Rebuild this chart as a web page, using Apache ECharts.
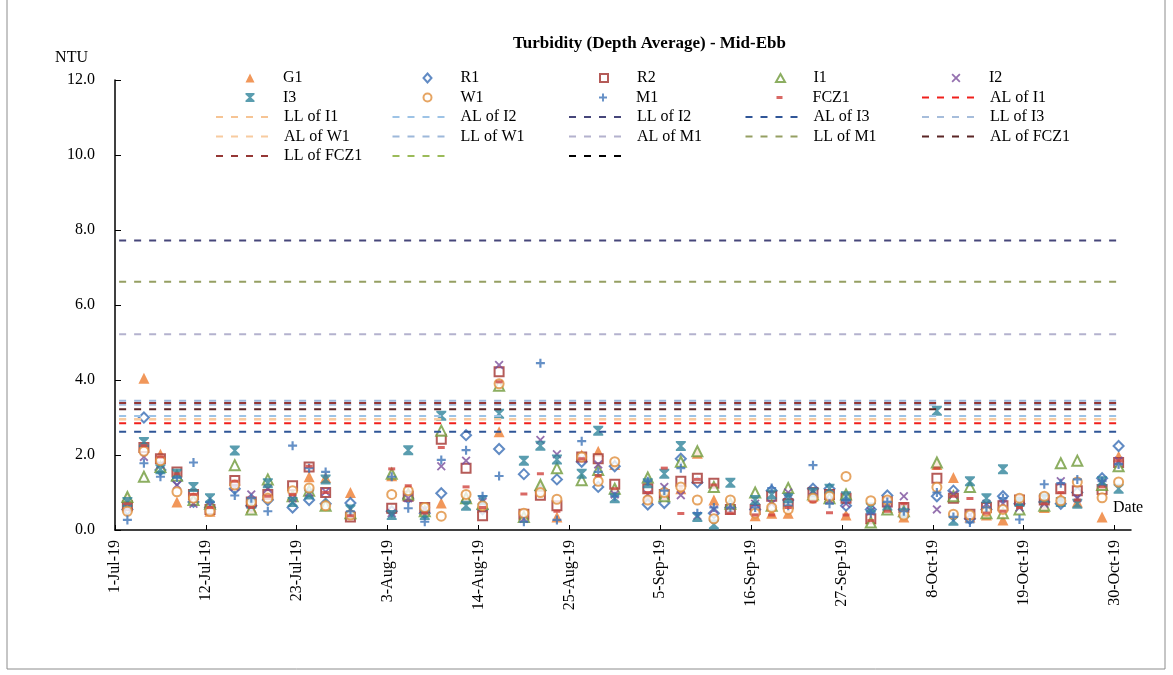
<!DOCTYPE html>
<html>
<head>
<meta charset="utf-8">
<script src="https://cdn.jsdelivr.net/npm/echarts@6/dist/echarts.min.js"></script>
<style>
	html, body { margin: 0; padding: 0; background: #fff; }
	#chart { width: 1173px; height: 675px; }
</style>
</head>
<body>
<div id="chart"></div>
<script>
	// sampling dates (one column of markers per date)
	var dates = ['2019-07-02', '2019-07-04', '2019-07-06', '2019-07-08', '2019-07-10', '2019-07-12', '2019-07-15', '2019-07-17', '2019-07-19', '2019-07-22', '2019-07-24', '2019-07-26', '2019-07-29',
		'2019-08-03', '2019-08-05', '2019-08-07', '2019-08-09', '2019-08-12', '2019-08-14', '2019-08-16', '2019-08-19', '2019-08-21', '2019-08-23', '2019-08-26', '2019-08-28', '2019-08-30',
		'2019-09-03', '2019-09-05', '2019-09-07', '2019-09-09', '2019-09-11', '2019-09-13', '2019-09-16', '2019-09-18', '2019-09-20', '2019-09-23', '2019-09-25', '2019-09-27', '2019-09-30',
		'2019-10-02', '2019-10-04', '2019-10-08', '2019-10-10', '2019-10-12', '2019-10-14', '2019-10-16', '2019-10-18', '2019-10-21', '2019-10-23', '2019-10-25', '2019-10-28', '2019-10-30'];

	var G1 = [0.85, 4.05, 2.02, 0.75, 0.9, 0.5, 1.2, 0.6, 1.05, 0.95, 1.42, 1.4, 1.0,
		1.45, 1.0, 0.55, 0.72, 0.9, 0.6, 2.62, 0.4, 1.15, 0.35, 2.0, 2.1, 1.75,
		0.85, 1.0, 1.1, 2.05, 0.8, 0.75, 0.38, 0.45, 0.45, 0.9, 0.9, 0.4, 0.3,
		0.6, 0.35, 1.75, 1.4, 0.35, 0.4, 0.27, 0.8, 0.6, 0.85, 0.75, 0.35, 1.97];
	var R1 = [0.55, 3.0, 1.6, 1.33, 0.75, 0.6, 1.1, 0.65, 0.8, 0.6, 0.8, 0.7, 0.72,
		0.5, 0.85, 0.45, 0.98, 2.53, 0.55, 2.16, 1.49, 1.05, 1.35, 1.82, 1.15, 1.7,
		0.68, 0.72, 1.9, 1.27, 0.45, 0.6, 0.55, 1.05, 0.8, 1.1, 1.1, 0.65, 0.55,
		0.92, 0.55, 0.9, 1.05, 0.3, 0.55, 0.9, 0.7, 0.75, 0.7, 1.0, 1.38, 2.24];
	var R2 = [0.65, 2.2, 1.9, 1.55, 0.95, 0.55, 1.32, 0.75, 0.95, 1.18, 1.68, 1.0, 0.35,
		0.58, 0.9, 0.6, 2.42, 1.65, 0.38, 4.22, 0.42, 0.93, 0.65, 1.95, 1.9, 1.22,
		1.1, 0.95, 1.3, 1.38, 1.25, 0.55, 0.55, 0.9, 0.7, 1.0, 0.95, 0.85, 0.3,
		0.75, 0.6, 1.38, 0.85, 0.42, 0.6, 0.65, 0.8, 0.8, 1.1, 1.05, 1.08, 1.8];
	var I1 = [0.88, 1.42, 1.68, 1.45, 0.8, 0.7, 1.73, 0.55, 1.35, 0.9, 1.05, 0.65, 0.45,
		1.5, 0.95, 0.5, 2.65, 0.85, 0.7, 3.85, 0.35, 1.2, 1.65, 1.33, 1.6, 1.1,
		1.4, 0.9, 1.82, 2.1, 1.15, 0.7, 1.0, 0.65, 1.12, 0.95, 0.85, 0.95, 0.2,
		0.55, 0.5, 1.8, 0.9, 1.15, 0.45, 0.45, 0.55, 0.65, 1.78, 1.85, 1.2, 1.7];
	var I2 = [0.6, 1.95, 1.75, 1.2, 0.7, 0.65, 1.15, 0.95, 1.1, 0.85, 1.0, 1.02, 0.4,
		0.45, 0.85, 0.55, 1.7, 1.85, 0.75, 4.4, 0.3, 2.4, 2.02, 1.9, 1.75, 0.95,
		0.95, 1.15, 0.93, 0.38, 0.55, 0.65, 0.7, 0.7, 1.0, 1.05, 0.8, 0.7, 0.5,
		0.7, 0.9, 0.55, 0.95, 0.4, 0.7, 0.7, 0.6, 0.7, 1.3, 0.85, 1.25, 1.85];
	var I3 = [0.75, 2.35, 1.62, 1.5, 1.15, 0.85, 2.12, 0.7, 1.25, 0.75, 0.95, 1.35, 0.55,
		0.4, 2.13, 0.4, 3.05, 0.65, 0.8, 3.1, 1.85, 2.25, 1.88, 1.5, 2.65, 0.85,
		1.25, 1.5, 2.24, 0.35, 0.15, 1.26, 0.8, 0.95, 0.85, 1.0, 1.1, 0.9, 0.6,
		0.65, 0.45, 3.18, 0.25, 1.3, 0.85, 1.62, 0.75, 0.85, 0.75, 0.7, 1.3, 1.1];
	var W1 = [0.5, 2.1, 1.85, 1.02, 0.85, 0.5, 1.2, 0.75, 0.85, 1.05, 1.12, 0.65, 0.4,
		0.95, 1.05, 0.6, 0.37, 0.95, 0.65, 3.9, 0.45, 1.0, 0.82, 1.95, 1.3, 1.82,
		0.8, 1.0, 1.15, 0.8, 0.3, 0.8, 0.45, 0.6, 0.55, 0.85, 0.9, 1.43, 0.78,
		0.8, 0.4, 1.14, 0.42, 0.4, 0.5, 0.55, 0.85, 0.9, 0.78, 1.28, 0.86, 1.28];
	var M1 = [0.27, 1.78, 1.42, 1.4, 1.8, 0.75, 0.92, 0.85, 0.5, 2.25, 1.65, 1.55, 0.5,
		1.42, 0.58, 0.22, 1.87, 2.13, 0.9, 1.44, 0.22, 4.45, 0.27, 2.37, 1.55, 0.9,
		1.3, 1.05, 1.65, 0.45, 0.6, 0.6, 0.6, 1.12, 0.65, 1.73, 0.7, 0.8, 0.45,
		0.75, 0.5, 1.0, 0.35, 0.2, 0.6, 0.85, 0.28, 1.22, 1.25, 1.35, 1.3, 1.75];
	var FCZ1 = [0.7, 2.25, 1.95, 1.5, 0.95, 0.6, 1.3, 0.6, 0.9, 0.95, 1.7, 1.0, 0.38,
		1.63, 1.18, 0.45, 2.2, 1.15, 0.6, 3.95, 0.96, 1.5, 0.5, 1.9, 1.45, 1.1,
		1.0, 1.65, 0.44, 1.35, 1.2, 0.45, 0.4, 0.4, 0.6, 0.75, 0.46, 0.4, 0.25,
		0.5, 0.7, 1.65, 0.9, 0.84, 0.45, 0.5, 0.6, 0.7, 1.0, 0.8, 1.15, 1.85];

	// action / limit levels (the last two legend entries have no name and no value)
	var limitNames = ['AL of I1', 'LL of I1', 'AL of I2', 'LL of I2', 'AL of I3', 'LL of I3', 'AL of W1', 'LL of W1', 'AL of M1', 'LL of M1', 'AL of FCZ1', 'LL of FCZ1', ' ', '  '];
	var limitValues = [2.85, 2.95, 3.04, 7.72, 2.62, 3.34, 2.96, 3.45, 5.22, 6.62, 3.22, 3.39, null, null];

	var tickLabels = ['1-Jul-19', '12-Jul-19', '23-Jul-19', '3-Aug-19', '14-Aug-19', '25-Aug-19', '5-Sep-19', '16-Sep-19', '27-Sep-19', '8-Oct-19', '19-Oct-19', '30-Oct-19'];

	var FONT = '"Liberation Serif", "Times New Roman", serif';
	var startDay = Date.UTC(2019, 6, 1);
	var tickStep = 11;

	// day offset from 1-Jul, markers sit in the middle of the day
	function dayPos(d) {
		var p = d.split('-');
		return (Date.UTC(+p[0], +p[1] - 1, +p[2]) - startDay) / 86400000 + 0.5;
	}
	var xs = dates.map(dayPos);
	var tickValues = tickLabels.map(function (t, i) { return i * tickStep; });

	// lg = legend icon size [w, h]
	var stations = [
		{ name: 'G1', data: G1, symbol: 'triangle', size: 11, lg: [9, 9], color: '#ED7D31' },
		{ name: 'R1', data: R1, symbol: 'emptyDiamond', size: 10, lg: [8, 9], color: '#3A6EB5' },
		{ name: 'R2', data: R2, symbol: 'emptyRect', size: 9, lg: [8, 8], color: '#A3322E' },
		{ name: 'I1', data: I1, symbol: 'emptyTriangle', size: 10, lg: [9, 8], color: '#6F9A3A' },
		{ name: 'I2', data: I2, symbol: 'path://M0,1.4L1.4,0L5,3.6L8.6,0L10,1.4L6.4,5L10,8.6L8.6,10L5,6.4L1.4,10L0,8.6L3.6,5Z', size: 9, lg: [9, 9], color: '#7A4E9B' },
		{ name: 'I3', data: I3, symbol: 'path://M0,0L10,0L10,1.6L6.3,5L10,8.4L10,10L0,10L0,8.4L3.7,5L0,1.6Z', size: 10, lg: [9, 9], color: '#31849B' },
		{ name: 'W1', data: W1, symbol: 'emptyCircle', size: 9, lg: [8, 8], color: '#E08E3C' },
		{ name: 'M1', data: M1, symbol: 'path://M3.8,0L6.2,0L6.2,3.8L10,3.8L10,6.2L6.2,6.2L6.2,10L3.8,10L3.8,6.2L0,6.2L0,3.8L3.8,3.8Z', size: 9, lg: [8, 8], color: '#3F74B8' },
		{ name: 'FCZ1', data: FCZ1, symbol: 'rect', size: [7, 3], lg: [6, 3], color: '#D0433F' }
	];
	var limitColors = ['#F0201C', '#F6C494', '#9DC3E6', '#46467A', '#2F5597', '#A6BDDB', '#F8CBA0', '#9DB8DA', '#B4B2CE', '#959F62', '#5A2525', '#953735', '#9BBB59', '#000000'];

	var series = [];
	limitNames.forEach(function (n, i) {
		var v = limitValues[i];
		series.push({
			name: n,
			type: 'line',
			symbol: 'none',
			silent: true,
			itemStyle: { color: limitColors[i] },
			lineStyle: { color: limitColors[i], width: 2, type: [7, 8] },
			data: v == null ? [] : [[xs[0] - 1, v], [xs[xs.length - 1], v]]
		});
	});
	stations.forEach(function (s) {
		series.push({
			name: s.name,
			type: 'scatter',
			symbol: s.symbol,
			symbolSize: s.size,
			symbolKeepAspect: true,
			itemStyle: { color: s.color, borderWidth: s.symbol.indexOf('empty') === 0 ? 2.2 : 0 },
			data: s.data.map(function (v, i) { return [xs[i], v]; })
		});
	});

	// legend laid out as a 5-column grid, one small legend per cell
	var legendNames = stations.map(function (s) { return s.name; }).concat(limitNames);
	var legends = legendNames.map(function (n, i) {
		var col = i % 5, row = Math.floor(i / 5);
		var cx = 215 + col * 176.5;
		var top = 70 + row * 19.5;
		var txt = { fontFamily: FONT, fontSize: 16, color: '#000' };
		if (i >= stations.length) {
			txt.padding = [0, 0, 0, 6];
			return {
				data: [{ name: n, itemStyle: { opacity: 0 } }],
				left: cx, top: top, padding: 0,
				itemWidth: 57, itemHeight: 10,
				selectedMode: false,
				textStyle: txt
			};
		}
		var lg = stations[i].lg;
		var left = cx + 35 - lg[0] / 2;
		txt.padding = [0, 0, 0, (cx + 68) - (left + lg[0] + 5)];
		return {
			data: [n],
			left: left, top: top, padding: 0,
			itemWidth: lg[0], itemHeight: lg[1],
			selectedMode: false,
			textStyle: txt
		};
	});

	var chart = echarts.init(document.getElementById('chart'));
	var option = {
		animation: false,
		backgroundColor: '#fff',
		title: {
			text: 'Turbidity (Depth Average) - Mid-Ebb',
			left: 508,
			top: 30,
			textStyle: { fontFamily: FONT, fontSize: 17, fontWeight: 'bold', color: '#000' }
		},
		legend: legends,
		grid: { left: 115, right: 42, top: 80, bottom: 145 },
		xAxis: {
			type: 'value',
			min: 0,
			max: 123,
			name: 'Date',
			nameLocation: 'end',
			nameGap: -18,
			nameTextStyle: { fontFamily: FONT, fontSize: 16, color: '#000', verticalAlign: 'bottom', padding: [0, 0, 14, 0] },
			axisLine: { lineStyle: { color: '#000', width: 1.5 } },
			axisTick: { inside: true, length: 5, customValues: tickValues, lineStyle: { color: '#000' } },
			axisLabel: {
				rotate: 90,
				margin: 10,
				customValues: tickValues,
				fontFamily: FONT,
				fontSize: 16,
				color: '#000',
				formatter: function (v) { return tickLabels[Math.round(v / tickStep)]; }
			},
			splitLine: { show: false }
		},
		yAxis: {
			type: 'value',
			min: 0,
			max: 12,
			interval: 2,
			name: 'NTU',
			nameLocation: 'end',
			nameGap: 14,
			nameTextStyle: { fontFamily: FONT, fontSize: 16, color: '#000', align: 'right', padding: [0, 27, 0, 0] },
			axisLine: { show: true, lineStyle: { color: '#000', width: 1.5 } },
			axisTick: { show: true, inside: true, length: 6, lineStyle: { color: '#000' } },
			axisLabel: {
				margin: 20,
				fontFamily: FONT,
				fontSize: 16,
				color: '#000',
				formatter: function (v) { return v.toFixed(1); }
			},
			splitLine: { show: false }
		},
		graphic: [{
			type: 'rect',
			silent: true,
			shape: { x: 7, y: -1, width: 1158, height: 670 },
			style: { fill: 'none', stroke: '#8c8c8c', lineWidth: 1 }
		}],
		series: series
	};
	chart.setOption(option);
</script>
</body>
</html>
